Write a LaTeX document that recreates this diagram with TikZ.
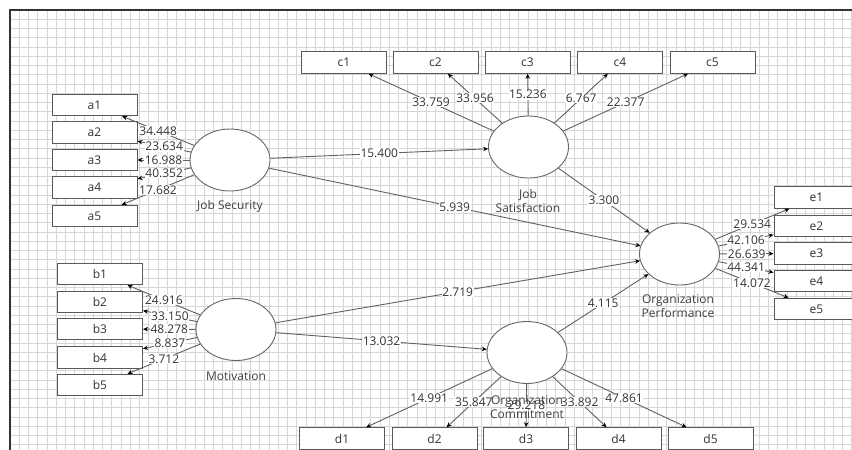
\documentclass[tikz,border=0pt]{standalone}
\usepackage{fontspec}
\setmainfont{Open Sans}
\usetikzlibrary{shapes.geometric,arrows.meta}
\newcommand\plsfont{\fontsize{12pt}{14pt}\selectfont}
\tikzset{
  gridl/.style={draw=black!16, line width=0.6pt},
  framel/.style={draw=black!80, line width=1.3pt},
  ind/.style={draw=black!65, fill=white, line width=1pt, minimum width=85pt, minimum height=21.5pt, inner sep=0pt, font=\plsfont, text=black!80},
  lat/.style={ellipse, draw=black!60, fill=white, line width=0.9pt, minimum width=80pt, minimum height=62pt, inner sep=0pt},
  latname/.style={font=\plsfont, text=black!75, align=center, inner sep=0pt},
  lnk/.style={draw=black!62, line width=0.9pt, -{Stealth[length=5pt,width=4.5pt,black]}},
  wt/.style={fill=white, inner sep=0.6pt, font=\plsfont, text=black!80}
}
\begin{document}
\begin{tikzpicture}[x=1pt,y=-1pt]
\useasboundingbox (0,0) rectangle (852,450);
\fill[white] (0,0) rectangle (852,450);
% grid
\foreach \k in {0,...,91} {\draw[gridl] ({10+9.25*\k},10) -- ({10+9.25*\k},450);}
\foreach \k in {0,...,47} {\draw[gridl] (10,{10+9.25*\k}) -- (852,{10+9.25*\k});}
% frame
\draw[framel] (10,450) -- (10,10) -- (852,10);
% latent variables
\node[lat] (JS) at (230,160) {};
\node[lat] (JSat) at (528.5,147) {};
\node[lat] (OP) at (679.5,254) {};
\node[lat] (MOT) at (236,329.5) {};
\node[lat] (OC) at (527,352.5) {};
% indicators
\foreach \i/\y in {1/105,2/132.5,3/160,4/187.5,5/216} {\node[ind] (a\i) at (94.5,\y) {a\i};}
\foreach \i/\y in {1/274,2/302,3/329,4/357.5,5/385} {\node[ind] (b\i) at (100,\y) {b\i};}
\foreach \i/\x in {1/344,2/435.5,3/527.5,4/620,5/712.5} {\node[ind] (c\i) at (\x,62.5) {c\i};}
\foreach \i/\x in {1/342,2/434.5,3/526,4/618.5,5/710.5} {\node[ind] (d\i) at (\x,438.5) {d\i};}
\foreach \i/\y in {1/197.5,2/226,3/253.5,4/281,5/309} {\node[ind] (e\i) at (816.5,\y) {e\i};}
% outer loadings
\foreach \i/\w in {1/34.448,2/23.634,3/16.988,4/40.352,5/17.682} {\draw[lnk] (JS) -- node[wt]{\w} (a\i);}
\foreach \i/\w in {1/24.916,2/33.150,3/48.278,4/8.837,5/3.712} {\draw[lnk] (MOT) -- node[wt]{\w} (b\i);}
\foreach \i/\w in {1/33.759,2/33.956,3/15.236,4/6.767,5/22.377} {\draw[lnk] (JSat) -- node[wt]{\w} (c\i);}
\foreach \i/\w in {1/14.991,2/35.847,3/29.218,4/33.892,5/47.861} {\draw[lnk] (OC) -- node[wt]{\w} (d\i);}
\foreach \i/\w in {1/29.534,2/42.106,3/26.639,4/44.341,5/14.072} {\draw[lnk] (OP) -- node[wt]{\w} (e\i);}
% structural paths
\draw[lnk] (JS) -- node[wt]{15.400} (JSat);
\draw[lnk] (JS) -- node[wt]{5.939} (OP);
\draw[lnk] (JSat) -- node[wt]{3.300} (OP);
\draw[lnk] (MOT) -- node[wt]{2.719} (OP);
\draw[lnk] (MOT) -- node[wt]{13.032} (OC);
\draw[lnk] (OC) -- node[wt]{4.115} (OP);
% latent names
\node[latname] (nJS) at (230,206) {Job Security};
\node[latname] (nJSat) at (528,200.5) {Job\\Satisfaction};
\node[latname] (nOP) at (678,306.5) {Organization\\Performance};
\node[latname] (nMOT) at (236,376) {Motivation};
\node[latname] (nOC) at (527,407) {Organization\\Commitment};
\end{tikzpicture}
\end{document}
